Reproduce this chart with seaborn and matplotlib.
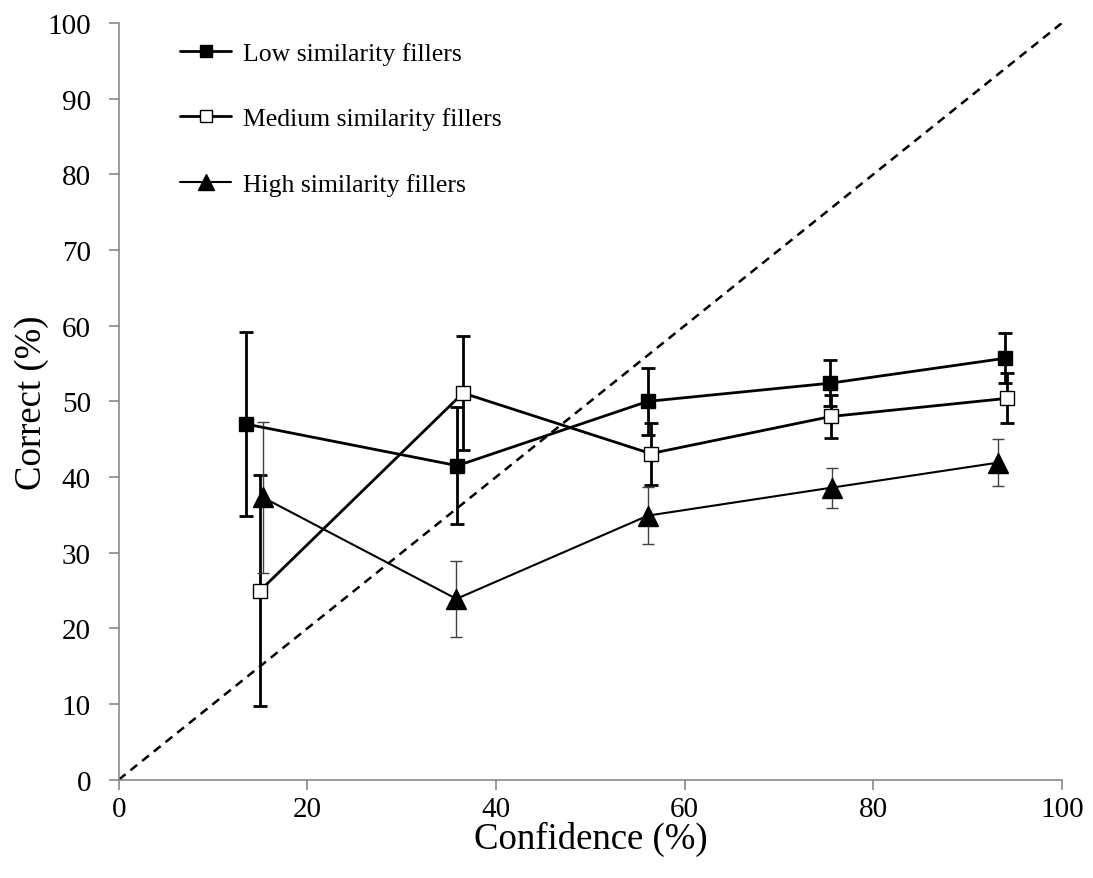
import pandas as pd
import matplotlib
matplotlib.use('Agg')
import matplotlib.pyplot as plt
import seaborn as sns

# Veri: güven (x), doğru (y) ve hata çubukları
low_x = [13.5, 35.9, 56.1, 75.4, 94.0]
low_y = [47.0, 41.5, 50.0, 52.4, 55.7]
low_err = [12.1, 7.7, 4.4, 3.0, 3.3]

med_x = [15.0, 36.5, 56.4, 75.5, 94.2]
med_y = [25.0, 51.1, 43.1, 48.0, 50.4]
med_err = [15.3, 7.5, 4.1, 2.8, 3.3]

high_x = [15.3, 35.8, 56.1, 75.6, 93.2]
high_y = [37.3, 23.9, 34.9, 38.6, 41.9]
high_err = [10.0, 5.0, 3.8, 2.65, 3.15]

labels = ['Low similarity fillers', 'Medium similarity fillers', 'High similarity fillers']
ticks = [0, 20, 40, 60, 80, 100]
yticks = [0, 10, 20, 30, 40, 50, 60, 70, 80, 90, 100]

sns.set_theme(style='white')
plt.rcParams['font.family'] = ['Liberation Serif', 'DejaVu Serif']
plt.rcParams['text.color'] = 'black'

fig = plt.figure(figsize=(10.93, 8.79), dpi=100)
ax = fig.add_axes([0.1086, 0.1118, 0.863, 0.8609])

# Köşegen (mükemmel kalibrasyon)
ax.plot([0, 100], [0, 100], color='black', lw=1.8, ls=(0, (3.5, 2.5)), zorder=1)

# Hata çubukları
ax.errorbar(low_x, low_y, yerr=low_err, fmt='none', ecolor='black',
            elinewidth=2.0, capsize=5, capthick=2.0, zorder=2)
ax.errorbar(med_x, med_y, yerr=med_err, fmt='none', ecolor='black',
            elinewidth=2.0, capsize=5, capthick=2.0, zorder=2)
ax.errorbar(high_x, high_y, yerr=high_err, fmt='none', ecolor='#404040',
            elinewidth=1.0, capsize=4.5, capthick=1.0, zorder=2)

df_low = pd.DataFrame({'x': low_x, 'y': low_y})
df_med = pd.DataFrame({'x': med_x, 'y': med_y})
df_high = pd.DataFrame({'x': high_x, 'y': high_y})

sns.lineplot(data=df_low, x='x', y='y', ax=ax, color='black', lw=2.0,
             marker='s', markersize=10, markerfacecolor='black', mec='black',
             mew=1, label=labels[0], zorder=3, sort=False)
sns.lineplot(data=df_med, x='x', y='y', ax=ax, color='black', lw=2.0,
             marker='s', markersize=10, markerfacecolor='white', mec='black',
             mew=1, label=labels[1], zorder=3, sort=False)
sns.lineplot(data=df_high, x='x', y='y', ax=ax, color='black', lw=1.5,
             marker='^', markersize=14, markerfacecolor='black', mec='black',
             mew=1, label=labels[2], zorder=3, sort=False)

ax.set_xlim(0, 100)
ax.set_ylim(0, 100)
ax.set_xticks(ticks)
ax.set_yticks(yticks)
ax.tick_params(axis='both', direction='out', length=7, width=1.1, color='#808080',
               labelsize=21, labelcolor='black', bottom=True, left=True)
ax.tick_params(axis='x', pad=5)
ax.tick_params(axis='y', pad=13)

for s in ['top', 'right']:
    ax.spines[s].set_visible(False)
for s in ['left', 'bottom']:
    ax.spines[s].set_color('#808080')
    ax.spines[s].set_linewidth(1.1)

ax.set_xlabel('Confidence (%)', fontsize=26.5, color='black', labelpad=-1)
ax.set_ylabel('Correct (%)', fontsize=26.5, color='black', labelpad=-1.5)

ax.legend(loc='upper left', bbox_to_anchor=(0.065, 0.975), frameon=False,
          fontsize=18.5, handlelength=2.0, handletextpad=0.45, labelspacing=1.65,
          borderaxespad=0, borderpad=0, markerscale=0.8, labelcolor='black')

fig.savefig('out.png', dpi=100)
